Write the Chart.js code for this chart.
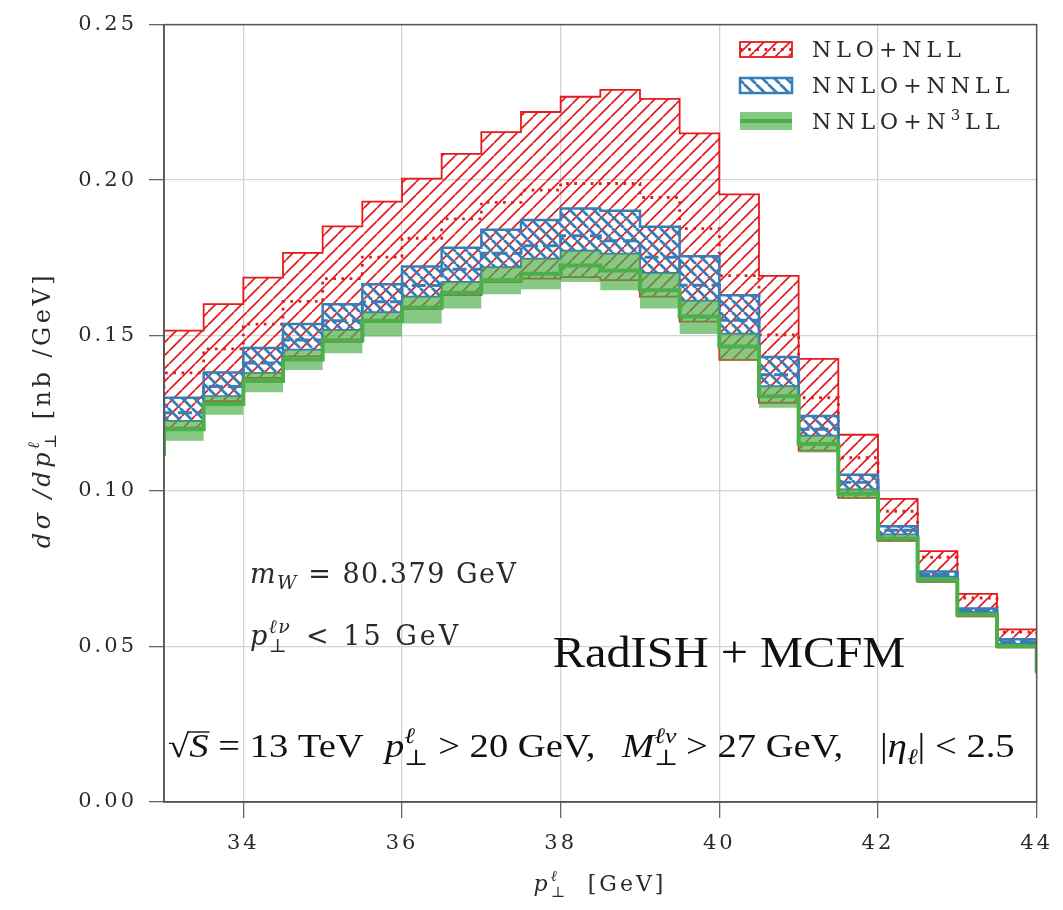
<!DOCTYPE html>
<html>
<head>
<meta charset="utf-8">
<script src="https://cdn.jsdelivr.net/npm/chart.js@4.4.1/dist/chart.umd.min.js"></script>
<style>
  html, body { margin: 0; padding: 0; background: #fff; }
  #wrap { position: relative; width: 1063px; height: 910px; }
</style>
</head>
<body>
<div id="wrap"><canvas id="chart"></canvas></div>
<script>
// bin left edges in GeV; first and last entries lie just outside the axis range
const binLo = [32.5, 33, 33.5, 34, 34.5, 35, 35.5, 36, 36.5, 37, 37.5, 38,
               38.5, 39, 39.5, 40, 40.5, 41, 41.5, 42, 42.5, 43, 43.5, 44];

// NLO+NLL band
const nloHi  = [0.1430, 0.1516, 0.1601, 0.1686, 0.1766, 0.1851, 0.1931, 0.2005, 0.2084, 0.2154, 0.2219, 0.2268,
                0.2290, 0.2261, 0.2150, 0.1954, 0.1692, 0.1425, 0.1181, 0.0975, 0.0807, 0.0669, 0.0555, 0.0460];
const nloMid = [0.1300, 0.1380, 0.1457, 0.1537, 0.1610, 0.1683, 0.1752, 0.1813, 0.1875, 0.1928, 0.1968, 0.1989,
                0.1989, 0.1944, 0.1844, 0.1693, 0.1502, 0.1300, 0.1107, 0.0935, 0.0787, 0.0656, 0.0546, 0.0450];
const nloLo  = [0.1120, 0.1204, 0.1289, 0.1364, 0.1433, 0.1480, 0.1545, 0.1585, 0.1630, 0.1672, 0.1683, 0.1688,
                0.1678, 0.1625, 0.1545, 0.1422, 0.1284, 0.1130, 0.0978, 0.0840, 0.0708, 0.0597, 0.0497, 0.0410];

// NNLO+NNLL band
const nnloHi  = [0.1220, 0.1300, 0.1381, 0.1460, 0.1537, 0.1601, 0.1665, 0.1722, 0.1782, 0.1840, 0.1872, 0.1909,
                 0.1901, 0.1850, 0.1755, 0.1630, 0.1431, 0.1241, 0.1052, 0.0887, 0.0741, 0.0622, 0.0523, 0.0435];
const nnloMid = [0.1180, 0.1252, 0.1336, 0.1412, 0.1486, 0.1548, 0.1609, 0.1661, 0.1713, 0.1765, 0.1789, 0.1821,
                 0.1805, 0.1752, 0.1662, 0.1549, 0.1374, 0.1199, 0.1028, 0.0874, 0.0732, 0.0616, 0.0515, 0.0430];
const nnloLo  = [0.1150, 0.1225, 0.1305, 0.1380, 0.1454, 0.1518, 0.1575, 0.1625, 0.1672, 0.1720, 0.1747, 0.1773,
                 0.1763, 0.1701, 0.1612, 0.1506, 0.1337, 0.1178, 0.1005, 0.0860, 0.0724, 0.0610, 0.0508, 0.0420];

// NNLO+N3LL band
const n3llHi  = [0.1150, 0.1227, 0.1305, 0.1382, 0.1452, 0.1518, 0.1573, 0.1625, 0.1672, 0.1720, 0.1747, 0.1773,
                 0.1763, 0.1701, 0.1612, 0.1506, 0.1337, 0.1178, 0.1007, 0.0858, 0.0723, 0.0609, 0.0507, 0.0422];
const n3llMid = [0.1119, 0.1199, 0.1280, 0.1354, 0.1423, 0.1485, 0.1548, 0.1590, 0.1638, 0.1678, 0.1699, 0.1725,
                 0.1709, 0.1646, 0.1561, 0.1465, 0.1305, 0.1151, 0.0991, 0.0847, 0.0715, 0.0603, 0.0502, 0.0416];
const n3llLo  = [0.1080, 0.1162, 0.1245, 0.1318, 0.1389, 0.1443, 0.1497, 0.1539, 0.1587, 0.1633, 0.1649, 0.1672,
                 0.1646, 0.1587, 0.1505, 0.1420, 0.1268, 0.1124, 0.0975, 0.0837, 0.0704, 0.0594, 0.0494, 0.0405];

const legendLabels = ['NLO+NLL', 'NNLO+NNLL', 'NNLO+N3LL'];

const RED = '#e41a1c', BLUE = '#377eb8', GREEN = '#4daf4a';
const GREEN_BAND = 'rgba(77,175,74,0.68)';
const SERIF = "'DejaVu Serif', serif";
const TIMES = "'Liberation Serif', 'DejaVu Serif', serif";
const INK = '#2a2a2a';

const canvas = document.getElementById('chart');
const ctx0 = canvas.getContext('2d');

// diagonal hatch tile: dir > 0 draws "/", otherwise "\"
function hatch(color, width, size, dir) {
    const c = document.createElement('canvas');
    c.width = c.height = size;
    const g = c.getContext('2d');
    g.strokeStyle = color;
    g.lineWidth = width;
    g.beginPath();
    for (const k of [-size, 0, size]) {
        if (dir > 0) { g.moveTo(k, size); g.lineTo(k + size, 0); }
        else         { g.moveTo(k, 0);    g.lineTo(k + size, size); }
    }
    g.stroke();
    return ctx0.createPattern(c, 'repeat');
}

const redHatch  = hatch(RED, 1.7, 13, 1);
const blueHatch = hatch(BLUE, 2.8, 12, -1);

function pts(vals) { return binLo.map((x, i) => ({ x, y: vals[i] })); }

// histogram style: each value holds from its bin edge to the next one
function step(label, vals, o) {
    return Object.assign({
        label, data: pts(vals), stepped: 'before', fill: false,
        pointRadius: 0, pointHoverRadius: 0,
        borderColor: 'rgba(0,0,0,0)', borderWidth: 1,
        borderJoinStyle: 'miter', borderCapStyle: 'butt',
    }, o);
}

// index 0 ends up on top, the last one is drawn first
const datasets = [
    step('N3LL mid', n3llMid, { borderColor: GREEN, borderWidth: 4 }),
    step('N3LL hi',  n3llHi,  { fill: '+1', backgroundColor: GREEN_BAND }),
    step('N3LL lo',  n3llLo,  {}),
    step('NNLL mid', nnloMid, { borderColor: BLUE, borderWidth: 3, borderDash: [14, 5] }),
    step('NNLL hi',  nnloHi,  { fill: '+1', backgroundColor: blueHatch, borderColor: BLUE, borderWidth: 2.5 }),
    step('NNLL lo',  nnloLo,  { borderColor: BLUE, borderWidth: 2 }),
    step('NLL mid',  nloMid,  { borderColor: RED, borderWidth: 2.8, borderDash: [2.7, 5.5] }),
    step('NLL hi',   nloHi,   { fill: '+1', backgroundColor: redHatch, borderColor: RED, borderWidth: 1.8 }),
    step('NLL lo',   nloLo,   { borderColor: RED, borderWidth: 1.8 }),
];

// draws a run of text pieces; pieces with adv:false don't move the pen (stacked sub/sup)
function rich(ctx, parts, x, y, align) {
    let w = 0;
    const widths = parts.map(p => {
        ctx.font = p.f;
        const m = ctx.measureText(p.t).width;
        if (p.adv !== false) w += m;
        return m;
    });
    let cx = align === 'center' ? x - w / 2 : x;
    const out = [];
    parts.forEach((p, i) => {
        ctx.font = p.f;
        ctx.fillText(p.t, cx, y + (p.dy || 0));
        out.push({ x: cx, w: widths[i] });
        if (p.adv !== false) cx += widths[i];
    });
    return out;
}

// same, but widened horizontally about the starting point
function richWide(ctx, parts, x, y, sx, align) {
    ctx.save();
    ctx.translate(x, y);
    ctx.scale(sx, 1);
    const out = rich(ctx, parts, 0, 0, align);
    ctx.restore();
    return out.map(o => ({ x: x + o.x * sx, w: o.w * sx }));
}

const rm = (s, fam) => `${s}px ${fam || SERIF}`;
const it = (s, fam) => `italic ${s}px ${fam || SERIF}`;

function drawLegend(ctx) {
    const x0 = 740, w = 52;
    ctx.save();
    // NLO+NLL swatch
    ctx.fillStyle = redHatch;
    ctx.fillRect(x0, 42, w, 15);
    ctx.strokeStyle = RED; ctx.lineWidth = 1.8;
    ctx.strokeRect(x0, 42, w, 15);
    ctx.setLineDash([2.7, 5.5]); ctx.lineWidth = 2.8;
    ctx.beginPath(); ctx.moveTo(x0, 49.5); ctx.lineTo(x0 + w, 49.5); ctx.stroke();
    ctx.setLineDash([]);
    // NNLO+NNLL swatch
    ctx.fillStyle = blueHatch;
    ctx.fillRect(x0, 78, w, 15);
    ctx.strokeStyle = BLUE; ctx.lineWidth = 2.5;
    ctx.strokeRect(x0, 78, w, 15);
    // NNLO+N3LL swatch
    ctx.fillStyle = GREEN_BAND;
    ctx.fillRect(x0, 112, w, 18);
    ctx.strokeStyle = GREEN; ctx.lineWidth = 4;
    ctx.beginPath(); ctx.moveTo(x0, 121); ctx.lineTo(x0 + w, 121); ctx.stroke();

    ctx.fillStyle = INK;
    ctx.letterSpacing = '5px';
    ctx.textBaseline = 'alphabetic';
    ctx.textAlign = 'left';
    rich(ctx, [{ t: legendLabels[0], f: rm(22) }], 812, 57);
    rich(ctx, [{ t: legendLabels[1], f: rm(22) }], 812, 93);
    rich(ctx, [{ t: 'NNLO+N', f: rm(22) }, { t: '3', f: rm(15), dy: -9 }, { t: 'LL', f: rm(22) }], 812, 129);
    ctx.restore();
}

function drawTexts(ctx) {
    ctx.save();
    ctx.fillStyle = INK;
    ctx.textAlign = 'left';
    ctx.textBaseline = 'alphabetic';

    // y axis title
    ctx.save();
    ctx.letterSpacing = '3.5px';
    ctx.translate(50, 410);
    ctx.rotate(-Math.PI / 2);
    rich(ctx, [
        { t: 'dσ /dp', f: it(24) },
        { t: 'ℓ', f: it(16), dy: -11, adv: false },
        { t: '⊥', f: rm(16), dy: 6 },
        { t: ' [nb /GeV]', f: rm(24) },
    ], 0, 0, 'center');
    ctx.restore();

    // x axis title
    ctx.letterSpacing = '3px';
    rich(ctx, [
        { t: 'p', f: it(22) },
        { t: 'ℓ', f: it(15), dy: -10, adv: false },
        { t: '⊥', f: rm(15), dy: 6 },
        { t: '  [GeV]', f: rm(22) },
    ], 600, 891, 'center');

    // parameter annotations
    ctx.letterSpacing = '1.5px';
    rich(ctx, [
        { t: 'm', f: it(27) },
        { t: 'W', f: it(19), dy: 6 },
        { t: ' = 80.379 GeV', f: rm(27) },
    ], 250, 583);
    rich(ctx, [
        { t: 'p', f: it(27) },
        { t: '⊥', f: rm(19), dy: 7, adv: false },
        { t: 'ℓν', f: it(19), dy: -12 },
    ], 250, 645);
    ctx.letterSpacing = '3px';
    rich(ctx, [{ t: '< 15 GeV', f: rm(27) }], 306, 645);

    ctx.letterSpacing = '0px';
    ctx.fillStyle = '#111';
    richWide(ctx, [{ t: 'RadISH + MCFM', f: rm(44, TIMES) }], 729, 667, 1.1, 'center');

    // kinematic cuts
    const b = 757, sx = 1.17;
    const seg1 = richWide(ctx, [
        { t: '√', f: rm(33, TIMES) },
        { t: 'S', f: it(33, TIMES) },
        { t: ' = 13 TeV', f: rm(33, TIMES) },
    ], 168, b, sx);
    ctx.strokeStyle = '#111';
    ctx.lineWidth = 1.4;
    ctx.beginPath();
    ctx.moveTo(seg1[1].x - 1, b - 25);
    ctx.lineTo(seg1[1].x + seg1[1].w + 1, b - 25);
    ctx.stroke();
    richWide(ctx, [
        { t: 'p', f: it(33, TIMES) },
        { t: 'ℓ', f: it(22, TIMES), dy: -14, adv: false },
        { t: '⊥', f: rm(22, TIMES), dy: 8 },
        { t: ' > 20 GeV,', f: rm(33, TIMES) },
    ], 385, b, sx);
    richWide(ctx, [
        { t: 'M', f: it(33, TIMES) },
        { t: '⊥', f: rm(22, TIMES), dy: 8, adv: false },
        { t: 'ℓν', f: it(22, TIMES), dy: -14 },
        { t: ' > 27 GeV,', f: rm(33, TIMES) },
    ], 622, b, sx);
    richWide(ctx, [
        { t: '|', f: rm(33, TIMES) },
        { t: 'η', f: it(33, TIMES) },
        { t: 'ℓ', f: it(22, TIMES), dy: 7 },
        { t: '| < 2.5', f: rm(33, TIMES) },
    ], 880, b, sx);
    ctx.restore();
}

const decor = {
    id: 'decor',
    beforeDraw(chart) {
        chart.ctx.letterSpacing = '3px';
    },
    afterDatasetsDraw(chart) {
        const { ctx, chartArea: a } = chart;
        ctx.save();
        ctx.strokeStyle = '#555';
        ctx.lineWidth = 1.5;
        ctx.strokeRect(a.left, a.top, a.right - a.left, a.bottom - a.top);
        ctx.restore();
    },
    afterDraw(chart) {
        const ctx = chart.ctx;
        drawLegend(ctx);
        drawTexts(ctx);
    },
};

new Chart(canvas, {
    type: 'line',
    data: { datasets },
    plugins: [decor],
    options: {
        animation: false,
        responsive: true,
        maintainAspectRatio: false,
        events: [],
        layout: { padding: { top: 18, right: 23, left: 0, bottom: 0 } },
        plugins: { legend: { display: false }, tooltip: { enabled: false } },
        scales: {
            x: {
                type: 'linear', min: 33, max: 44,
                ticks: {
                    stepSize: 2, includeBounds: false, autoSkip: false, maxRotation: 0,
                    padding: 13, color: INK, font: { family: SERIF, size: 21 },
                },
                grid: { color: '#d2d2d2', lineWidth: 1.3, tickColor: '#666', tickLength: 16, tickWidth: 1.3 },
                border: { color: '#555', width: 1.5 },
                afterFit(s) { s.height = 108; },
            },
            y: {
                min: 0, max: 0.25,
                ticks: {
                    stepSize: 0.05, padding: 12, color: INK, font: { family: SERIF, size: 21 },
                    callback: v => v.toFixed(2),
                },
                grid: { color: '#d2d2d2', lineWidth: 1.3, tickColor: '#666', tickLength: 15, tickWidth: 1.3 },
                border: { color: '#555', width: 1.5 },
                afterFit(s) { s.width = 164; },
            },
        },
    },
});
</script>
</body>
</html>
